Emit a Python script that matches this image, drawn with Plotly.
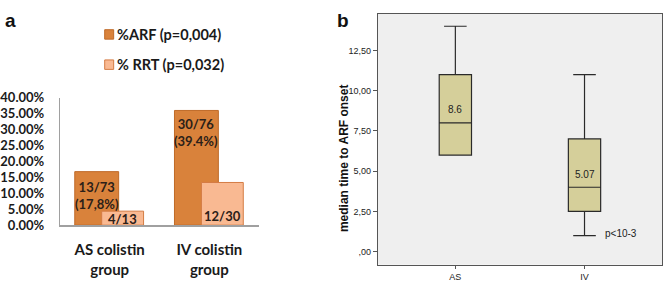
import plotly.graph_objects as go

# ---- Panel a data ----
groups = ["AS colistin<br>group", "IV colistin<br>group"]
arf_pct = [16.8, 36.0]
rrt_pct = [4.4, 13.4]
arf_labels = ["13/73<br>(17,8%)", "30/76<br>(39.4%)"]
rrt_labels = ["4/13", "12/30"]
arf_name = "%ARF (p=0,004)"
rrt_name = "% RRT (p=0,032)"
a_ticks = [0, 5, 10, 15, 20, 25, 30, 35, 40]
a_ticklabels = ["0.00%", "5.00%", "10.00%", "15.00%", "20.00%", "25.00%", "30.00%", "35.00%", "40.00%"]

# ---- Panel b data ----
routes = ["AS", "IV"]
b_q1 = [6.0, 2.5]
b_median = [8.0, 4.0]
b_q3 = [11.0, 7.0]
b_low = [6.0, 1.0]
b_high = [14.0, 11.0]
b_mean_labels = ["8.6", "5.07"]
b_mean_pos = [8.8, 4.8]
b_ticks = [0, 2.5, 5, 7.5, 10, 12.5]
b_ticklabels = [",00", "2,50", "5,00", "7,50", "10,00", "12,50"]

W, H = 664, 287
fig = go.Figure()

# Panel a bars
fig.add_trace(go.Bar(x=groups, y=arf_pct, name=arf_name, xaxis="x", yaxis="y",
                     marker=dict(color="#D9823B", line=dict(color="#BF6A28", width=1)),
                     offset=-0.35, width=0.44, showlegend=False))
fig.add_trace(go.Bar(x=groups, y=rrt_pct, name=rrt_name, xaxis="x", yaxis="y",
                     marker=dict(color="#F9B992", line=dict(color="#D47C44", width=1)),
                     offset=-0.08, width=0.42, showlegend=False))

lab_font = dict(family="Lato, Open Sans, sans-serif", size=13, color="#2b2018")
arf_label_y = [9.3, 29.0]
for g, t, yy in zip(groups, arf_labels, arf_label_y):
    fig.add_annotation(x=g, y=yy, xref="x", yref="y", text="<b>%s</b>" % t, showarrow=False,
                       xshift=-13, font=lab_font, align="center")
rrt_label_y = [1.8, 3.0]
for g, t, yy in zip(groups, rrt_labels, rrt_label_y):
    fig.add_annotation(x=g, y=yy, xref="x", yref="y", text="<b>%s</b>" % t, showarrow=False,
                       xshift=13, font=lab_font, align="center")

# Panel b boxes
fig.add_trace(go.Box(x=routes, q1=b_q1, median=b_median, q3=b_q3,
                     lowerfence=b_low, upperfence=b_high, xaxis="x2", yaxis="y2",
                     fillcolor="#D5CF9A", line=dict(color="#2a2a2a", width=1.2),
                     width=0.25, whiskerwidth=0.7, boxpoints=False, showlegend=False,
                     hoverinfo="skip"))
for r, t, yy in zip(routes, b_mean_labels, b_mean_pos):
    fig.add_annotation(x=r, y=yy, xref="x2", yref="y2", text=t, showarrow=False,
                       font=dict(family="Arial", size=10, color="#222"))
fig.add_annotation(x=routes[1], y=1.1, xref="x2", yref="y2", text="p<10-3", showarrow=False,
                   xshift=36, font=dict(family="Arial", size=10, color="#222"))

# Legend (manual)
for i, (nm, col, lc) in enumerate([(arf_name, "#D9823B", "#BF6A28"), (rrt_name, "#F9B992", "#D47C44")]):
    yc = 1 - (28 + 32 * i) / H
    fig.add_shape(type="rect", xref="paper", yref="paper",
                  x0=103 / W, x1=112 / W, y0=yc - 5 / H, y1=yc + 5 / H,
                  fillcolor=col, line=dict(color=lc, width=1))
    fig.add_annotation(x=113 / W, y=yc, xref="paper", yref="paper", text="<b>%s</b>" % nm,
                       showarrow=False, xanchor="left", yanchor="middle",
                       font=dict(family="Lato, Open Sans, sans-serif", size=14.5, color="#1a1a1a"))

# panel letters
fig.add_annotation(x=1 / W, y=1 - 13 / H, xref="paper", yref="paper", text="<b>a</b>", showarrow=False,
                   xanchor="left", yanchor="middle", font=dict(family="Arial", size=19, color="#111"))
fig.add_annotation(x=334 / W, y=1 - 13 / H, xref="paper", yref="paper", text="<b>b</b>", showarrow=False,
                   xanchor="left", yanchor="middle", font=dict(family="Arial", size=19, color="#111"))

# y title for panel b
fig.add_annotation(x=343 / W, y=1 - 159 / H, xref="paper", yref="paper",
                   text="<b>median time to ARF onset</b>", showarrow=False, textangle=-90,
                   font=dict(family="Arial", size=12, color="#111"))

fig.update_layout(
    width=W, height=H, margin=dict(l=0, r=0, t=0, b=0),
    paper_bgcolor="white", plot_bgcolor="white", barmode="overlay",
    xaxis=dict(domain=[58 / W, 258 / W], range=[-0.5, 1.5], anchor="y",
               showline=True, linecolor="#a0a0a0", linewidth=2, ticks="",
               ticklabelstandoff=10,
               tickvals=groups, ticktext=["<b>%s</b>" % g for g in groups],
               tickfont=dict(family="Lato, Open Sans, sans-serif", size=15, color="#1a1a1a")),
    yaxis=dict(domain=[(H - 230) / H, (H - 95) / H], range=[0, 40], anchor="x",
               tickvals=a_ticks, ticktext=["<b>%s</b>" % t for t in a_ticklabels],
               showgrid=False, zeroline=False, showline=True, linecolor="#a0a0a0", linewidth=1,
               ticks="", ticklabelstandoff=12,
               tickfont=dict(family="Lato, Open Sans, sans-serif", size=13, color="#1a1a1a")),
    xaxis2=dict(domain=[377 / W, 662 / W], range=[-0.6, 1.6], anchor="y2",
                showline=True, mirror=True, linecolor="#555", linewidth=1,
                ticks="outside", ticklen=3, tickcolor="#555",
                tickfont=dict(family="Arial", size=9, color="#222")),
    yaxis2=dict(domain=[(H - 272) / H, (H - 6) / H], range=[-0.82, 14.78], anchor="x2",
                tickvals=b_ticks, ticktext=b_ticklabels, showgrid=False, zeroline=False,
                showline=True, mirror=True, linecolor="#555", linewidth=1,
                ticks="outside", ticklen=4, tickcolor="#555",
                tickfont=dict(family="Arial", size=9, color="#222")),
)
fig.update_layout(shapes=list(fig.layout.shapes) + [
    dict(type="rect", xref="x2 domain", yref="y2 domain", x0=0, x1=1, y0=0, y1=1,
         fillcolor="#EFEFEF", line=dict(width=0), layer="below")])

fig.write_html("out.html", config={"displayModeBar": False},
               post_script="document.body.style.margin='0';document.body.style.overflow='hidden';")
